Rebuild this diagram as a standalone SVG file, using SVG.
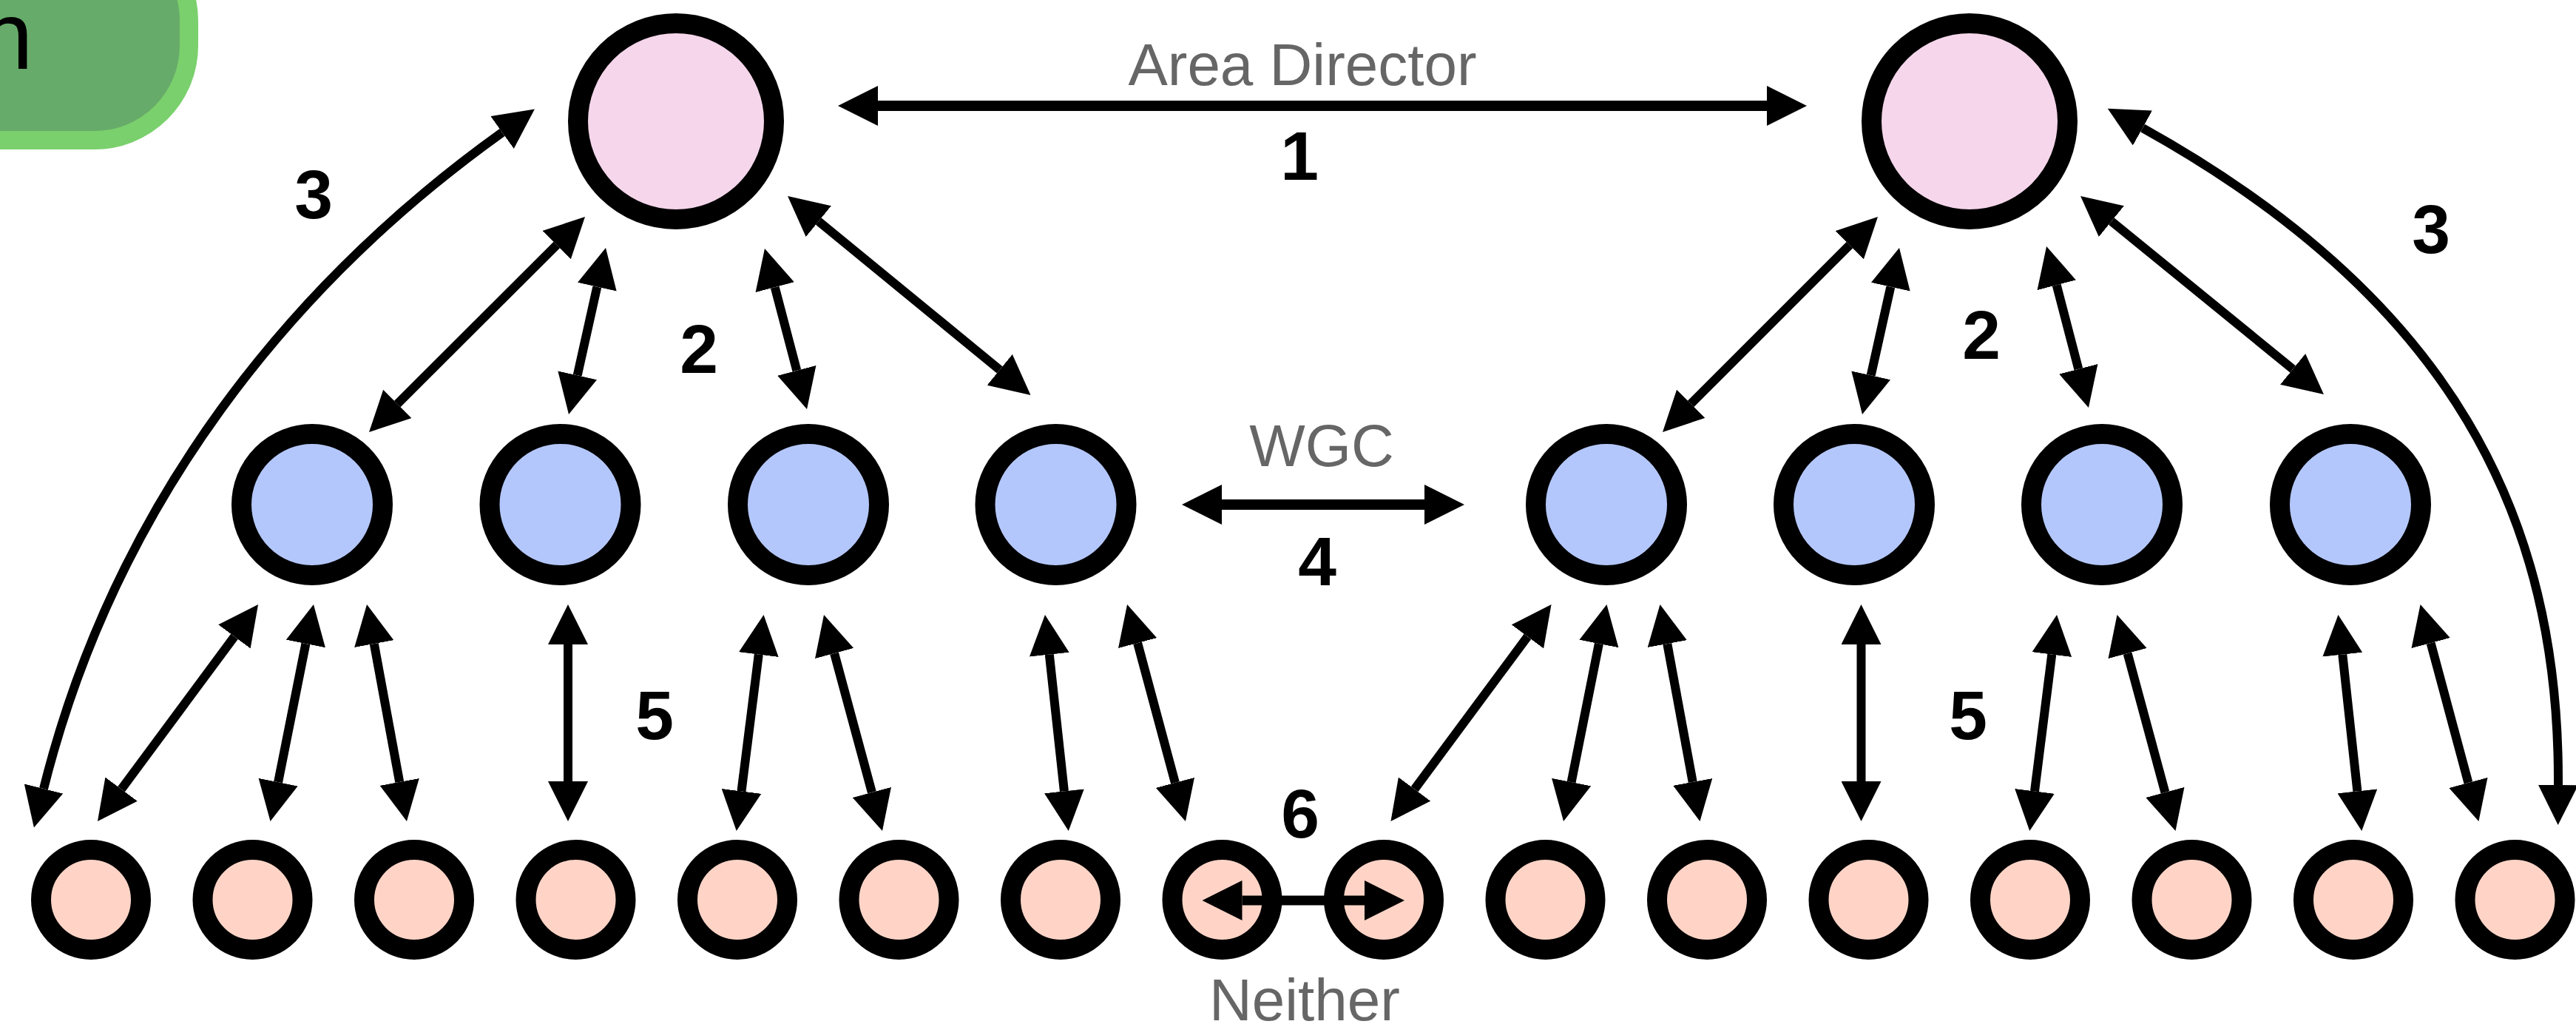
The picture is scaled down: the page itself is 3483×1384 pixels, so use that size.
<svg xmlns="http://www.w3.org/2000/svg" width="3483" height="1384" viewBox="0 0 3483 1384">
<defs>
<style>
.pink{fill:#f5d6eb;stroke:#000;stroke-width:27}
.blue{fill:#b4c7fc;stroke:#000;stroke-width:27}
.peach{fill:#ffd4c7;stroke:#000;stroke-width:27}
.conn{stroke:#000;stroke-width:12;fill:none;marker-start:url(#ah);marker-end:url(#ah)}
.thick{stroke-width:14}
.num{font-family:"Liberation Sans",Arial,sans-serif;font-weight:bold;font-size:93px;text-anchor:middle;fill:#000}
.lbl{font-family:"Liberation Sans",Arial,sans-serif;font-size:80px;text-anchor:middle;fill:#666}
</style>
<marker id="ah" markerUnits="userSpaceOnUse" markerWidth="54" markerHeight="54" viewBox="0 0 54 54" refX="0" refY="27" orient="auto-start-reverse">
<path d="M0,0 L54,27 L0,54 z" fill="#000"/>
</marker>
</defs>
<rect width="3483" height="1384" fill="#fff"/>

<g id="title-badge">
<rect x="-400" y="-100" width="655.5" height="289.5" rx="128" ry="128" fill="#67ab6a" stroke="#7ad06c" stroke-width="25"/>
<text x="-27" y="93" font-family="'Liberation Sans',Arial,sans-serif" font-size="129" fill="#000">n</text>
</g>

<g id="nodes">
<g id="ad-left"><circle class="pink" cx="914" cy="164" r="132.5"/></g>
<g id="ad-right"><circle class="pink" cx="2663" cy="164" r="132.5"/></g>

<g id="wgc-1"><circle class="blue" cx="422" cy="682" r="95.5"/></g>
<g id="wgc-2"><circle class="blue" cx="757.5" cy="682" r="95.5"/></g>
<g id="wgc-3"><circle class="blue" cx="1093" cy="682" r="95.5"/></g>
<g id="wgc-4"><circle class="blue" cx="1427.5" cy="682" r="95.5"/></g>
<g id="wgc-5"><circle class="blue" cx="2172" cy="682" r="95.5"/></g>
<g id="wgc-6"><circle class="blue" cx="2507" cy="682" r="95.5"/></g>
<g id="wgc-7"><circle class="blue" cx="2842" cy="682" r="95.5"/></g>
<g id="wgc-8"><circle class="blue" cx="3178" cy="682" r="95.5"/></g>

<g id="p-1"><circle class="peach" cx="123" cy="1216" r="67.5"/></g>
<g id="p-2"><circle class="peach" cx="341.5" cy="1216" r="67.5"/></g>
<g id="p-3"><circle class="peach" cx="560" cy="1216" r="67.5"/></g>
<g id="p-4"><circle class="peach" cx="778.5" cy="1216" r="67.5"/></g>
<g id="p-5"><circle class="peach" cx="997" cy="1216" r="67.5"/></g>
<g id="p-6"><circle class="peach" cx="1215.5" cy="1216" r="67.5"/></g>
<g id="p-7"><circle class="peach" cx="1434" cy="1216" r="67.5"/></g>
<g id="p-8"><circle class="peach" cx="1652.5" cy="1216" r="67.5"/></g>
<g id="p-9"><circle class="peach" cx="1871" cy="1216" r="67.5"/></g>
<g id="p-10"><circle class="peach" cx="2089.5" cy="1216" r="67.5"/></g>
<g id="p-11"><circle class="peach" cx="2308" cy="1216" r="67.5"/></g>
<g id="p-12"><circle class="peach" cx="2526.5" cy="1216" r="67.5"/></g>
<g id="p-13"><circle class="peach" cx="2745" cy="1216" r="67.5"/></g>
<g id="p-14"><circle class="peach" cx="2963.5" cy="1216" r="67.5"/></g>
<g id="p-15"><circle class="peach" cx="3182" cy="1216" r="67.5"/></g>
<g id="p-16"><circle class="peach" cx="3400.5" cy="1216" r="67.5"/></g>
</g>

<g id="connectors">
<line class="conn thick" x1="1187" y1="143" x2="2389" y2="143"/>
<line class="conn thick" x1="1652" y1="682" x2="1926" y2="682"/>
<line class="conn" stroke-width="13" x1="1679.5" y1="1217" x2="1845" y2="1217" style="stroke-width:13px"/>

<path class="conn" d="M679,179 C394.5,382.7 156.2,678 59,1066"/>
<path class="conn" d="M2897,173 C3316.5,406 3461,700 3459,1061"/>

<line class="conn" x1="752.75" y1="331.1" x2="537.25" y2="545.9"/>
<line class="conn" x1="807.3" y1="387.7" x2="780.7" y2="507.3"/>
<line class="conn" x1="1047.7" y1="388.2" x2="1077.3" y2="500.8"/>
<line class="conn" x1="1106.8" y1="299.2" x2="1351.7" y2="499.8"/>

<line class="conn" x1="2500.8" y1="331.2" x2="2286.2" y2="545.8"/>
<line class="conn" x1="2556.3" y1="387.7" x2="2529.7" y2="507.3"/>
<line class="conn" x1="2780.7" y1="385.3" x2="2810.3" y2="498.8"/>
<line class="conn" x1="2854.9" y1="299.1" x2="3100.1" y2="498.9"/>

<line class="conn" x1="316.9" y1="860.4" x2="164.1" y2="1066.6"/>
<line class="conn" x1="413.4" y1="870" x2="376.1" y2="1057.1"/>
<line class="conn" x1="505.8" y1="870.1" x2="540.2" y2="1056.9"/>
<line class="conn" x1="768" y1="871" x2="768" y2="1056"/>
<line class="conn" x1="1025.8" y1="884.6" x2="1002.5" y2="1069.4"/>
<line class="conn" x1="1128.1" y1="883.1" x2="1178.9" y2="1070.9"/>
<line class="conn" x1="1418.8" y1="884.7" x2="1438.9" y2="1069.3"/>
<line class="conn" x1="1538.1" y1="869.1" x2="1588.9" y2="1057.9"/>

<line class="conn" x1="2065.4" y1="860.4" x2="1912.6" y2="1066.6"/>
<line class="conn" x1="2161.9" y1="870" x2="2124.6" y2="1057.1"/>
<line class="conn" x1="2254.3" y1="870.1" x2="2288.7" y2="1056.9"/>
<line class="conn" x1="2516.5" y1="871" x2="2516.5" y2="1056"/>
<line class="conn" x1="2774.3" y1="884.6" x2="2751" y2="1069.4"/>
<line class="conn" x1="2876.6" y1="883.1" x2="2927.4" y2="1070.9"/>
<line class="conn" x1="3167.3" y1="884.7" x2="3187.4" y2="1069.3"/>
<line class="conn" x1="3286.6" y1="869.1" x2="3337.4" y2="1057.9"/>
</g>

<g id="labels">
<text class="lbl" x="1761" y="115">Area Director</text>
<text class="lbl" x="1787" y="630">WGC</text>
<text class="lbl" x="1764" y="1379">Neither</text>
<text class="num" x="1757" y="243">1</text>
<text class="num" x="945" y="504">2</text>
<text class="num" x="2679" y="485">2</text>
<text class="num" x="424" y="295">3</text>
<text class="num" x="3287" y="342">3</text>
<text class="num" x="1781" y="791">4</text>
<text class="num" x="885" y="999">5</text>
<text class="num" x="2661" y="999">5</text>
<text class="num" x="1758" y="1132">6</text>
</g>
</svg>
